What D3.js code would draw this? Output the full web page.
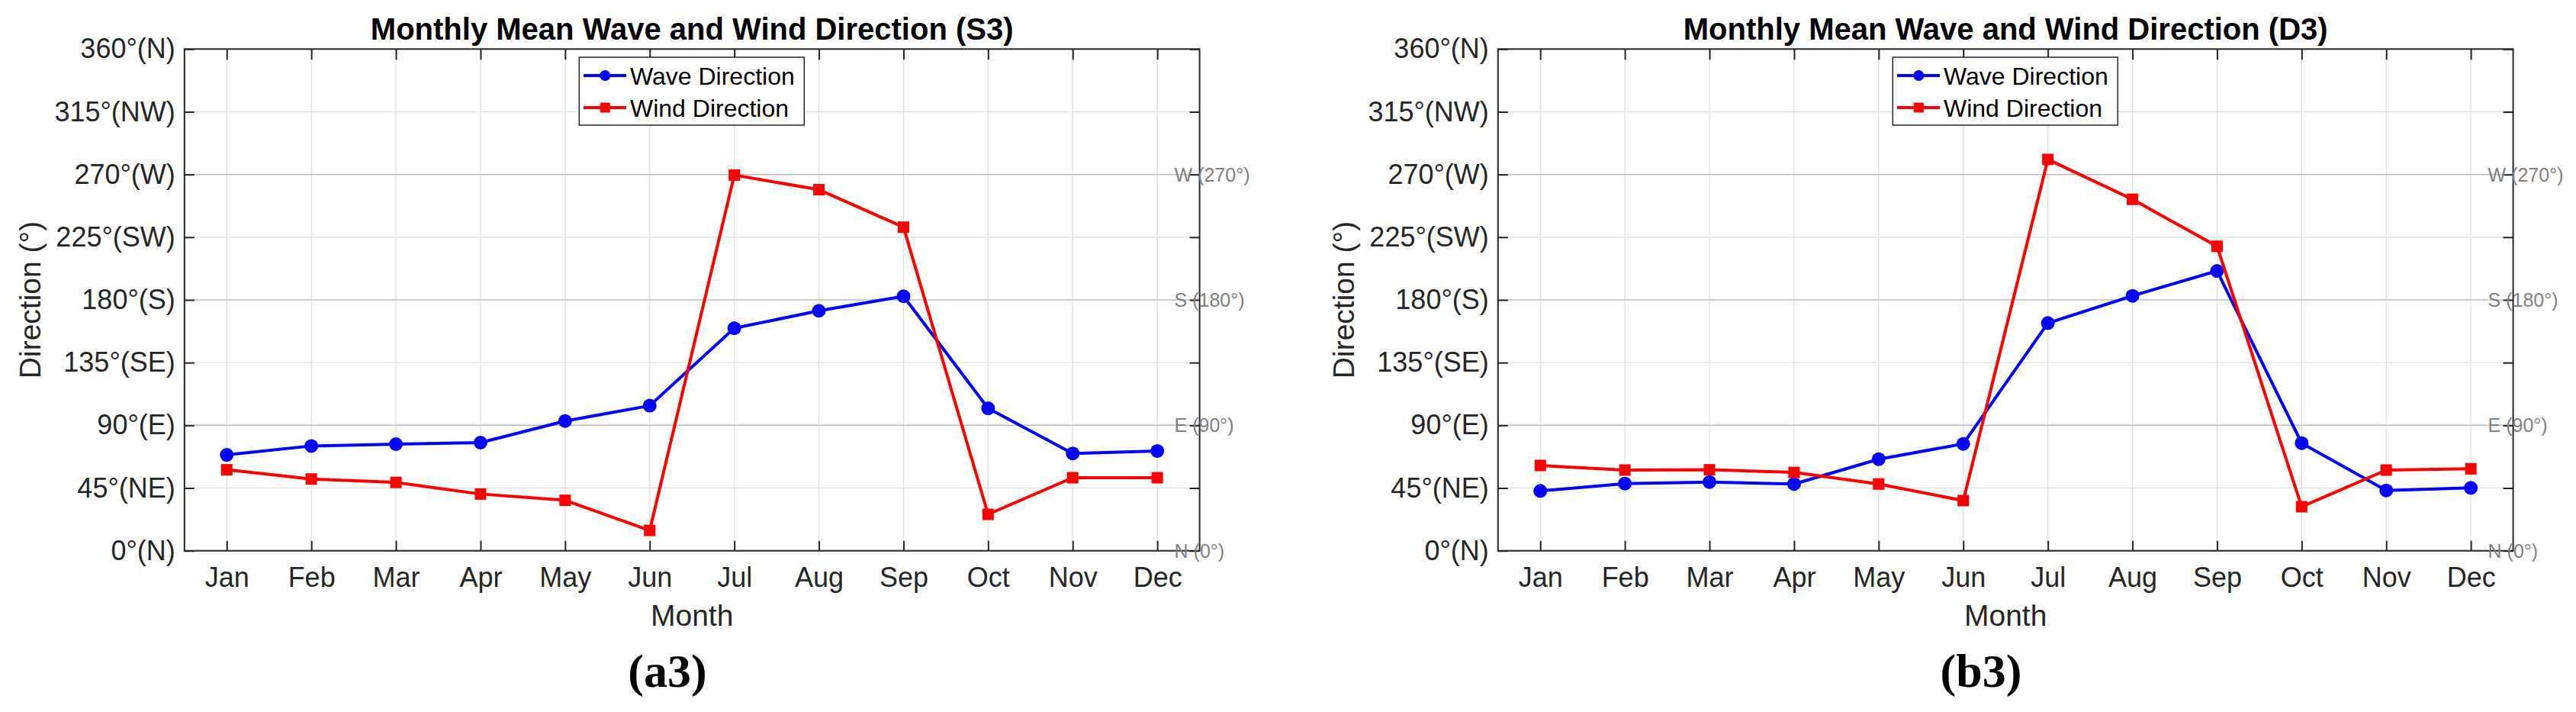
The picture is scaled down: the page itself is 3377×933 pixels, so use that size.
<!DOCTYPE html>
<html lang="en">
<head>
  <meta charset="UTF-8">
  <title>Monthly Mean Wave and Wind Direction</title>
  <style>
    body { margin: 0; background: #fff; }
    svg { display: block; font-family: "Liberation Sans", Arial, Helvetica, sans-serif; }
  </style>
</head>
<body>
  <svg width="3377" height="933"></svg>
  <script src="https://d3js.org/d3.v7.min.js"></script>
  <script>
    // values
    const months = ['Jan', 'Feb', 'Mar', 'Apr', 'May', 'Jun', 'Jul', 'Aug', 'Sep', 'Oct', 'Nov', 'Dec'];
    const yTicks = [0, 45, 90, 135, 180, 225, 270, 315, 360];
    const yTickLabels = ['0°(N)', '45°(NE)', '90°(E)', '135°(SE)', '180°(S)', '225°(SW)', '270°(W)', '315°(NW)', '360°(N)'];
    const refValues = [0, 90, 180, 270];
    const refLabels = ['N (0°)', 'E (90°)', 'S (180°)', 'W (270°)'];
    const seriesNames = ['Wave Direction', 'Wind Direction'];

    const s3Wave = [68.8, 75.2, 76.5, 77.6, 93.1, 104.1, 159.7, 172.2, 182.6, 102.2, 69.8, 71.6];
    const s3Wind = [58.1, 51.5, 49.0, 40.7, 36.2, 14.6, 269.6, 259.1, 232.2, 26.1, 52.4, 52.4];
    const stD3Wave = [42.9, 48.2, 49.3, 47.9, 65.7, 76.7, 163.4, 182.9, 200.8, 77.2, 43.3, 45.1];
    const stD3Wind = [61.2, 57.9, 58.1, 56.2, 47.9, 36.0, 280.8, 252.2, 218.5, 31.6, 57.9, 58.8];

    const panels = [
      { title: 'Monthly Mean Wave and Wind Direction (S3)', tag: '(a3)', wave: s3Wave, wind: s3Wind },
      { title: 'Monthly Mean Wave and Wind Direction (D3)', tag: '(b3)', wave: stD3Wave, wind: stD3Wind }
    ];

    const svg = d3.select('svg');
    const margin = {top: 64.3, left: 241.8};
    const width = 1330.8, height = 657.4;
    const panelStep = 1722;
    const axisColor = '#262626';

    const x = d3.scaleLinear().domain([0.5, 12.5]).range([0, width]);
    const y = d3.scaleLinear().domain([0, 360]).range([height, 0]);
    const line = d3.line().x((d, i) => x(i + 1)).y(d => y(d));

    panels.forEach((p, k) => {
      const g = svg.append('g')
        .attr('transform', `translate(${margin.left + k * panelStep},${margin.top})`);

      // grid
      g.append('g').selectAll('line').data(months).join('line')
        .attr('x1', (d, i) => x(i + 1)).attr('x2', (d, i) => x(i + 1))
        .attr('y1', 0).attr('y2', height)
        .attr('stroke', '#dedede').attr('stroke-width', 1.2);
      g.append('g').selectAll('line').data(yTicks.filter(v => !refValues.includes(v))).join('line')
        .attr('x1', 0).attr('x2', width)
        .attr('y1', d => y(d)).attr('y2', d => y(d))
        .attr('stroke', '#dedede').attr('stroke-width', 1.2);

      // reference lines at the cardinal directions
      g.append('g').selectAll('line').data(refValues).join('line')
        .attr('x1', 0).attr('x2', width)
        .attr('y1', d => y(d)).attr('y2', d => y(d))
        .attr('stroke', '#bdbdbd').attr('stroke-width', 1.5);

      // axes, ticks pointing inward on all four sides
      const yl = g.append('g')
        .call(d3.axisLeft(y).tickValues(yTicks).tickFormat((d, i) => yTickLabels[i])
          .tickSizeInner(-13).tickSizeOuter(0).tickPadding(12));
      const yr = g.append('g').attr('transform', `translate(${width},0)`)
        .call(d3.axisRight(y).tickValues(yTicks).tickFormat('')
          .tickSizeInner(-13).tickSizeOuter(0));
      const xb = g.append('g').attr('transform', `translate(0,${height})`)
        .call(d3.axisBottom(x).tickValues(d3.range(1, 13)).tickFormat(d => months[d - 1])
          .tickSizeInner(-13).tickSizeOuter(0).tickPadding(22));
      const xt = g.append('g')
        .call(d3.axisTop(x).tickValues(d3.range(1, 13)).tickFormat('')
          .tickSizeInner(-14).tickSizeOuter(0));

      [yl, yr, xb, xt].forEach(a => {
        a.select('.domain').remove();
        a.selectAll('.tick line').attr('stroke', axisColor).attr('stroke-width', 2);
        a.selectAll('.tick text').attr('fill', axisColor)
          .style('font-family', '"Liberation Sans", Arial, sans-serif')
          .style('font-size', '36px');
      });

      g.append('rect')
        .attr('width', width).attr('height', height)
        .attr('fill', 'none').attr('stroke', axisColor).attr('stroke-width', 2);

      // data
      const series = [
        { values: p.wave, color: '#0000ff', marker: 'circle' },
        { values: p.wind, color: '#ff0000', marker: 'square' }
      ];
      series.forEach(s => {
        g.append('path').datum(s.values)
          .attr('fill', 'none').attr('stroke', s.color).attr('stroke-width', 4)
          .attr('stroke-linejoin', 'round')
          .attr('d', line);
        if (s.marker === 'circle') {
          g.append('g').selectAll('circle').data(s.values).join('circle')
            .attr('cx', (d, i) => x(i + 1)).attr('cy', d => y(d))
            .attr('r', 9).attr('fill', s.color);
        } else {
          g.append('g').selectAll('rect').data(s.values).join('rect')
            .attr('x', (d, i) => x(i + 1) - 7.5).attr('y', d => y(d) - 7.5)
            .attr('width', 15).attr('height', 15).attr('fill', s.color);
        }
      });

      // reference labels
      g.append('g').selectAll('text').data(refValues).join('text')
        .attr('x', width - 33).attr('y', d => y(d))
        .attr('dy', '0.36em')
        .attr('fill', '#808080')
        .style('font-size', '25px')
        .text((d, i) => refLabels[i]);

      // legend
      const lg = g.append('g').attr('transform', 'translate(517.5,10.7)');
      lg.append('rect').attr('width', 295).attr('height', 89)
        .attr('fill', '#fff').attr('stroke', axisColor).attr('stroke-width', 1.5);
      series.forEach((s, i) => {
        const row = lg.append('g').attr('transform', `translate(0,${24 + i * 42})`);
        row.append('line').attr('x1', 5.7).attr('x2', 61.7)
          .attr('stroke', s.color).attr('stroke-width', 4);
        if (s.marker === 'circle') {
          row.append('circle').attr('cx', 34).attr('r', 7).attr('fill', s.color);
        } else {
          row.append('rect').attr('x', 27.5).attr('y', -6.5)
            .attr('width', 13).attr('height', 13).attr('fill', s.color);
        }
        row.append('text').attr('x', 66.7).attr('dy', '0.36em')
          .attr('fill', '#000').style('font-size', '32px')
          .text(seriesNames[i]);
      });

      // titles and labels
      g.append('text').attr('x', width / 2).attr('y', -12.5)
        .attr('text-anchor', 'middle').attr('fill', '#000')
        .style('font-size', '40px').style('font-weight', 'bold')
        .text(p.title);
      g.append('text').attr('x', width / 2).attr('y', 820 - margin.top)
        .attr('text-anchor', 'middle').attr('fill', axisColor)
        .style('font-size', '39px')
        .text('Month');
      g.append('text')
        .attr('transform', `translate(${53 - margin.left},${height / 2}) rotate(-90)`)
        .attr('text-anchor', 'middle').attr('fill', axisColor)
        .style('font-size', '39px')
        .text('Direction (°)');
      g.append('text').attr('x', 875 - margin.left).attr('y', 900 - margin.top)
        .attr('text-anchor', 'middle').attr('fill', '#000')
        .style('font-family', '"Liberation Serif", "Times New Roman", serif')
        .style('font-size', '62px').style('font-weight', 'bold')
        .text(p.tag);
    });
  </script>
</body>
</html>
